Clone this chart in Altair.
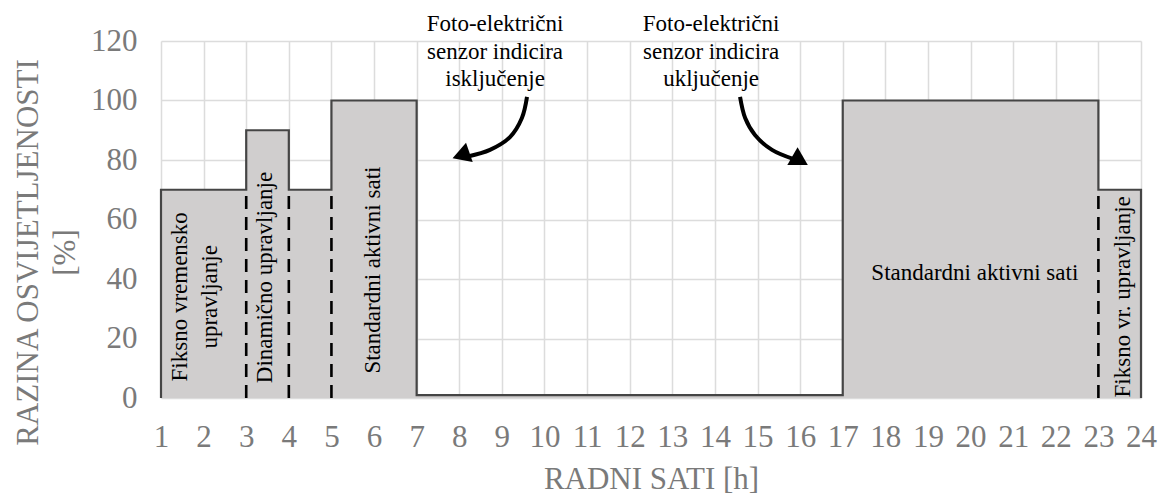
import altair as alt
import pandas as pd

# ---- data ----
step_hours = [1, 3, 4, 5, 7, 17, 23, 24]
step_levels = [70, 90, 70, 100, 1, 100, 70, 70]

outline_hours = [1, 1, 3, 4, 5, 7, 17, 23, 24, 24]
outline_levels = [0, 70, 90, 70, 100, 1, 100, 70, 70, 0]

dash_hours = [3, 4, 5, 23]
dash_top = 68

vlabel_texts = ["Fiksno vremensko\nupravljanje", "Dinamično upravljanje",
                "Standardni aktivni sati", "Fiksno vr. upravljanje"]
vlabel_hours = [1.45, 3.44, 5.98, 23.58]
vlabel_levels = [34, 40.5, 43, 34]

hlabel_texts = ["Standardni aktivni sati"]
hlabel_hours = [20.1]
hlabel_levels = [42]

note_texts = ["Foto-električni\nsenzor indicira\nisključenje",
              "Foto-električni\nsenzor indicira\nuključenje"]
note_hours = [8.84, 13.91]
note_levels = [125.7, 125.7]

arrow1_hours = [9.59, 9.47, 9.19, 8.72, 8.20]
arrow1_levels = [101.2, 94.1, 87.7, 83.4, 81.2]
arrow2_hours = [14.59, 14.71, 14.94, 15.34, 15.85]
arrow2_levels = [101.2, 94.1, 88.4, 83.4, 80.3]

head_hours = [8.04, 16.0]
head_levels = [81.6, 79.8]
head_shapes = ["triangle-left", "triangle-right"]
head_angles = [341, 30]

x_ticks = list(range(1, 25))
y_ticks = [0, 20, 40, 60, 80, 100, 120]

FONT = "Liberation Serif"
GRAY = "#7a7a7a"

# ---- frames ----
area_df = pd.DataFrame({"h": step_hours, "v": step_levels})
outline_df = pd.DataFrame({"h": outline_hours, "v": outline_levels,
                           "i": list(range(len(outline_hours)))})
dash_df = pd.DataFrame({"h": dash_hours, "v0": [0] * len(dash_hours),
                        "v1": [dash_top] * len(dash_hours)})
vlab_df = pd.DataFrame({"h": vlabel_hours, "v": vlabel_levels, "t": vlabel_texts})
hlab_df = pd.DataFrame({"h": hlabel_hours, "v": hlabel_levels, "t": hlabel_texts})
note_df = pd.DataFrame({"h": note_hours, "v": note_levels, "t": note_texts})
arrow_df = pd.DataFrame({
    "h": arrow1_hours + arrow2_hours,
    "v": arrow1_levels + arrow2_levels,
    "a": ["a1"] * len(arrow1_hours) + ["a2"] * len(arrow2_hours),
    "i": list(range(len(arrow1_hours))) + list(range(len(arrow2_hours))),
})
head_df = pd.DataFrame({"h": head_hours, "v": head_levels,
                        "s": head_shapes, "ang": head_angles})

xscale = alt.Scale(domain=[1, 24], nice=False, zero=False)
yscale = alt.Scale(domain=[0, 120], nice=False)

xax = alt.Axis(values=x_ticks, title="RADNI SATI [h]", grid=True, gridColor="#dcdcdc",
               gridWidth=1.5, domain=False, ticks=False, labelFont=FONT,
               labelFontSize=31, labelColor=GRAY, labelPadding=24, labelFlush=False,
               titleFont=FONT, titleFontSize=31, titleColor=GRAY, titleFontWeight="normal",
               titleBaseline="alphabetic", titleY=90, labelOverlap=False)
yax = alt.Axis(values=y_ticks, title=["RAZINA OSVIJETLJENOSTI", "[%]"], grid=True,
               gridColor="#dcdcdc", gridWidth=1.5, domain=False, ticks=False,
               labelFont=FONT, labelFontSize=31, labelColor=GRAY, labelPadding=24,
               titleFont=FONT, titleFontSize=31, titleColor=GRAY, titleFontWeight="normal",
               titleLineHeight=37, titleBaseline="middle", titleAlign="center",
               titleX=-133, titleY=211, titleAngle=270)

area = alt.Chart(area_df).mark_area(interpolate="step-after", color="#d0cece").encode(
    x=alt.X("h:Q", scale=xscale, axis=xax),
    y=alt.Y("v:Q", scale=yscale, axis=yax),
)

outline = alt.Chart(outline_df).mark_line(interpolate="step-after", color="#454545",
                                          strokeWidth=2.2).encode(
    x=alt.X("h:Q", scale=xscale), y=alt.Y("v:Q", scale=yscale), order="i:Q")

dashes = alt.Chart(dash_df).mark_rule(color="black", strokeWidth=2.6,
                                      strokeDash=[13, 8]).encode(
    x=alt.X("h:Q", scale=xscale), y=alt.Y("v0:Q", scale=yscale), y2="v1:Q")

vlabels = alt.Chart(vlab_df).mark_text(angle=270, font=FONT, fontSize=23, color="black",
                                       lineBreak="\n", lineHeight=30, baseline="middle",
                                       align="center").encode(
    x=alt.X("h:Q", scale=xscale), y=alt.Y("v:Q", scale=yscale), text="t:N")

hlabels = alt.Chart(hlab_df).mark_text(font=FONT, fontSize=23, color="black",
                                       baseline="middle", align="center").encode(
    x=alt.X("h:Q", scale=xscale), y=alt.Y("v:Q", scale=yscale), text="t:N")

notes = alt.Chart(note_df).mark_text(font=FONT, fontSize=23, color="black",
                                     lineBreak="\n", lineHeight=27.5, baseline="middle",
                                     align="center").encode(
    x=alt.X("h:Q", scale=xscale), y=alt.Y("v:Q", scale=yscale), text="t:N")

arrows = alt.Chart(arrow_df).mark_line(color="black", strokeWidth=4,
                                       interpolate="catmull-rom").encode(
    x=alt.X("h:Q", scale=xscale), y=alt.Y("v:Q", scale=yscale),
    detail="a:N", order="i:Q")

heads = alt.Chart(head_df).mark_point(filled=True, color="black", size=420,
                                      opacity=1).encode(
    x=alt.X("h:Q", scale=xscale), y=alt.Y("v:Q", scale=yscale),
    shape=alt.Shape("s:N", scale=None), angle=alt.Angle("ang:Q", scale=None))

chart = alt.layer(area, outline, dashes, vlabels, hlabels, notes, arrows, heads).properties(
    width=980, height=357,
    padding={"left": 153, "top": 33, "right": 20, "bottom": 96},
    autosize=alt.AutoSizeParams(type="none"),
).configure_view(stroke=None)

chart.save("out.html", embed_options={"renderer": "svg", "actions": False})
